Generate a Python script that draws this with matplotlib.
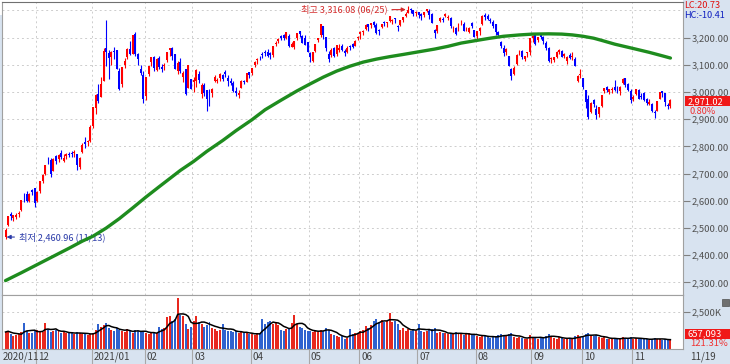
import numpy as np
import pandas as pd
import matplotlib
matplotlib.use('Agg')
import matplotlib.pyplot as plt
import matplotlib.transforms as mtransforms
from matplotlib.patches import Rectangle

plt.rcParams['font.family'] = ['Noto Sans CJK KR', 'DejaVu Sans']
plt.rcParams['font.size'] = 7

# trading days per month, 2020/11/13 .. 2021/11/19
month_labels = ['2020/11', '12', '2021/01', '02', '03', '04', '05', '06', '07', '08', '09', '10', '11']
month_days = [12, 21, 20, 18, 22, 22, 19, 22, 22, 21, 19, 19, 15]

opens = [
    2466, 2510, 2550, 2536, 2540, 2553, 2566, 2618, 2626, 2600, 2640, 2648,
    2598, 2636, 2674, 2698, 2748, 2750, 2710, 2765, 2755, 2775, 2746, 2765, 2774, 2773, 2777, 2772, 2726, 2778, 2815, 2815, 2821,
    2874, 2943, 2993, 2981, 3041, 3161, 3145, 3128, 3150, 3153, 3077, 3028, 3098, 3130, 3159, 3141, 3213, 3140, 3083, 3063,
    2984, 3068, 3110, 3128, 3081, 3124, 3092, 3094, 3117, 3156, 3163, 3139, 3078, 3112, 3057, 3084, 3015, 3047,
    3036, 3042, 3065, 2993, 3027, 3006, 2971, 2995, 3040, 3042, 3053, 3064, 3073, 3051, 3039, 3035, 3003, 2988, 3014, 3042, 3038, 3074,
    3071, 3100, 3117, 3128, 3138, 3144, 3148, 3143, 3136, 3178, 3188, 3205, 3208, 3200, 3207, 3167, 3166, 3197, 3224, 3206, 3200, 3183,
    3144, 3115, 3151, 3190, 3208, 3244, 3203, 3140, 3137, 3162, 3140, 3155, 3169, 3150, 3148, 3171, 3175, 3171, 3197,
    3215, 3222, 3231, 3249, 3248, 3257, 3246, 3229, 3238, 3257, 3254, 3260, 3262, 3271, 3242, 3248, 3264, 3281, 3289, 3306, 3300, 3290,
    3294, 3287, 3283, 3299, 3297, 3287, 3228, 3225, 3262, 3267, 3278, 3271, 3271, 3231, 3237, 3225, 3252, 3249, 3231, 3219, 3253, 3228,
    3205, 3225, 3251, 3285, 3281, 3264, 3257, 3250, 3222, 3185, 3162, 3149, 3131, 3083, 3065, 3103, 3146, 3151, 3120, 3143, 3146,
    3198, 3210, 3190, 3210, 3204, 3182, 3162, 3122, 3116, 3130, 3147, 3152, 3132, 3113, 3138, 3128, 3123, 3041, 3064,
    3052, 3007, 2974, 2927, 2970, 2938, 2919, 2950, 3004, 3020, 3001, 3009, 3020, 3008, 3004, 3032, 3050, 3029, 3005,
    2974, 2993, 3009, 2986, 2997, 2975, 2955, 2956, 2928, 2931, 2976, 3005, 2996, 2952, 2948,
]
highs = [
    2500, 2545, 2560, 2547, 2555, 2563, 2602, 2630, 2635, 2629, 2642, 2648,
    2635, 2673, 2697, 2731, 2762, 2759, 2756, 2768, 2771, 2786, 2771, 2777, 2781, 2783, 2788, 2774, 2762, 2812, 2834, 2823, 2878,
    2946, 2991, 3028, 3056, 3161, 3266, 3156, 3150, 3165, 3153, 3089, 3093, 3124, 3161, 3188, 3208, 3220, 3142, 3099, 3079,
    3057, 3097, 3130, 3131, 3125, 3131, 3104, 3105, 3147, 3163, 3164, 3139, 3114, 3125, 3079, 3085, 3099, 3048,
    3057, 3084, 3077, 3035, 3032, 3006, 3010, 3014, 3061, 3053, 3071, 3067, 3082, 3061, 3051, 3039, 3018, 3007, 3044, 3046, 3070, 3075,
    3089, 3114, 3126, 3134, 3149, 3154, 3159, 3148, 3169, 3186, 3199, 3208, 3213, 3221, 3214, 3183, 3187, 3218, 3226, 3211, 3210, 3185,
    3147, 3147, 3178, 3200, 3249, 3244, 3203, 3150, 3161, 3164, 3174, 3175, 3175, 3157, 3171, 3172, 3179, 3191, 3207,
    3226, 3227, 3249, 3249, 3255, 3261, 3252, 3231, 3250, 3260, 3259, 3279, 3269, 3272, 3245, 3264, 3276, 3294, 3316.08, 3310, 3303, 3299,
    3296, 3292, 3294, 3306, 3304, 3290, 3230, 3248, 3275, 3276, 3289, 3283, 3275, 3243, 3238, 3252, 3264, 3256, 3240, 3240, 3256, 3228,
    3225, 3238, 3282, 3289, 3288, 3273, 3266, 3250, 3225, 3189, 3173, 3162, 3131, 3090, 3097, 3139, 3155, 3153, 3134, 3148, 3200,
    3208, 3210, 3203, 3213, 3206, 3186, 3166, 3129, 3130, 3150, 3157, 3154, 3145, 3134, 3144, 3148, 3128, 3062, 3083,
    3053, 3009, 2988, 2962, 2975, 2951, 2945, 2989, 3015, 3022, 3013, 3019, 3043, 3023, 3021, 3051, 3051, 3033, 3010,
    2989, 3013, 3010, 2997, 3000, 2977, 2974, 2961, 2933, 2968, 3000, 3005, 2997, 2958, 2973,
]
lows = [
    2460.96, 2508, 2530, 2527, 2532, 2541, 2563, 2596, 2595, 2596, 2622, 2579,
    2597, 2630, 2664, 2695, 2737, 2689, 2709, 2736, 2744, 2755, 2742, 2754, 2760, 2763, 2762, 2713, 2716, 2775, 2795, 2800, 2818,
    2869, 2921, 2961, 2980, 3040, 3096, 3047, 3100, 3121, 3085, 3007, 3020, 3089, 3120, 3136, 3141, 3131, 3098, 3061, 2961,
    2970, 3060, 3096, 3076, 3078, 3085, 3072, 3081, 3110, 3132, 3117, 3085, 3067, 3070, 3036, 2988, 3015, 3010,
    3000, 3017, 3035, 2979, 2984, 2930, 2950, 2981, 3037, 3034, 3040, 3040, 3057, 3023, 3025, 3002, 2987, 2978, 3014, 3029, 3037, 3051,
    3063, 3092, 3104, 3116, 3125, 3131, 3127, 3123, 3130, 3168, 3182, 3190, 3193, 3196, 3166, 3164, 3159, 3190, 3201, 3181, 3174, 3147,
    3112, 3112, 3146, 3185, 3204, 3194, 3151, 3110, 3130, 3130, 3133, 3149, 3151, 3132, 3144, 3153, 3161, 3168, 3190,
    3196, 3210, 3227, 3226, 3235, 3238, 3213, 3211, 3235, 3243, 3239, 3256, 3250, 3253, 3223, 3241, 3256, 3277, 3289, 3292, 3278, 3280,
    3273, 3265, 3277, 3293, 3270, 3252, 3200, 3216, 3257, 3257, 3275, 3266, 3237, 3221, 3209, 3224, 3246, 3223, 3225, 3218, 3237, 3202,
    3194, 3208, 3248, 3264, 3264, 3253, 3234, 3211, 3201, 3163, 3134, 3136, 3095, 3044, 3064, 3101, 3135, 3122, 3113, 3129, 3135,
    3184, 3174, 3183, 3194, 3175, 3153, 3110, 3107, 3109, 3124, 3140, 3129, 3125, 3104, 3120, 3118, 3097, 3036, 3053,
    3011, 2941, 2901, 2924, 2944, 2901, 2908, 2946, 2995, 2999, 2992, 2995, 3003, 2996, 2990, 3029, 3020, 3003, 2961,
    2968, 2989, 2973, 2973, 2966, 2951, 2954, 2927, 2904, 2930, 2975, 2981, 2950, 2937, 2943,
]
closes = [
    2493, 2543, 2545, 2547, 2547, 2553, 2602, 2617, 2601, 2625, 2633, 2591,
    2634, 2672, 2696, 2731, 2745, 2700, 2755, 2746, 2770, 2762, 2756, 2771, 2770, 2772, 2778, 2733, 2759, 2806, 2808, 2820, 2873,
    2944, 2990, 2968, 3031, 3152, 3148, 3125, 3148, 3149, 3085, 3013, 3092, 3114, 3160, 3140, 3208, 3140, 3122, 3069, 2976,
    3056, 3096, 3129, 3087, 3120, 3091, 3084, 3100, 3147, 3163, 3133, 3086, 3107, 3079, 3070, 2994, 3099, 3012,
    3043, 3082, 3043, 3026, 2996, 2976, 2958, 3013, 3054, 3045, 3067, 3047, 3066, 3039, 3035, 3004, 2996, 2995, 3041, 3036, 3070, 3061,
    3087, 3112, 3120, 3127, 3137, 3143, 3131, 3135, 3169, 3182, 3194, 3198, 3198, 3220, 3171, 3177, 3186, 3217, 3215, 3181, 3174, 3147,
    3127, 3147, 3178, 3197, 3249, 3209, 3161, 3122, 3153, 3134, 3173, 3162, 3156, 3144, 3162, 3166, 3165, 3188, 3203,
    3221, 3223, 3247, 3240, 3252, 3247, 3216, 3224, 3249, 3252, 3258, 3278, 3264, 3267, 3240, 3263, 3276, 3286, 3302, 3301, 3286, 3296,
    3282, 3281, 3293, 3305, 3285, 3252, 3217, 3246, 3271, 3264, 3286, 3276, 3244, 3232, 3215, 3250, 3254, 3224, 3232, 3236, 3243, 3202,
    3223, 3237, 3280, 3276, 3270, 3260, 3243, 3220, 3208, 3171, 3143, 3158, 3097, 3060, 3090, 3138, 3147, 3128, 3133, 3144, 3199,
    3207, 3175, 3201, 3203, 3187, 3162, 3114, 3125, 3127, 3148, 3153, 3130, 3140, 3127, 3125, 3133, 3097, 3060, 3068,
    3019, 2962, 2908, 2959, 2956, 2916, 2944, 2988, 3015, 3006, 3013, 3013, 3007, 3006, 3020, 3049, 3025, 3009, 2970,
    2983, 3013, 2975, 2983, 2969, 2960, 2962, 2930, 2924, 2968, 2999, 2997, 2962, 2947, 2971.02,
]
# volume, thousand shares
volumes = [
    1150, 1250, 1000, 900, 950, 1000, 1150, 1750, 1250, 1050, 1100, 1200,
    1300, 1200, 1150, 1750, 1350, 1150, 1250, 1300, 1200, 1100, 1150, 1050, 1050, 1150, 1000, 1150, 1050, 1000, 1100, 950, 1000,
    1050, 1300, 1700, 1500, 1600, 1750, 1400, 1300, 1250, 1450, 1300, 1200, 1150, 1350, 1200, 1050, 1300, 1250, 1150, 1250,
    1050, 1000, 1100, 1150, 1050, 1500, 1350, 1450, 2150, 2200, 1900, 2000, 3450, 2300, 2200, 1700, 1350, 1500,
    1900, 2200, 1800, 1700, 1500, 1600, 1800, 1450, 1350, 1250, 1300, 1700, 1300, 1200, 1250, 1150, 1200, 1100, 1150, 1050, 1150, 1000,
    1000, 950, 1050, 1100, 2000, 1700, 1800, 1900, 1700, 1800, 1600, 1300, 1250, 1350, 1400, 1750, 2300, 1700, 1500, 1400, 1300, 1250,
    1200, 1150, 1250, 1150, 1300, 1250, 1450, 1300, 1000, 950, 900, 800, 850, 700, 750, 1350, 1000, 1050, 1100,
    1200, 1300, 1550, 1450, 1650, 1900, 2000, 1850, 1950, 1800, 1900, 2400, 1850, 1900, 1700, 1300, 1400, 1250, 1350, 1200, 1300, 1250,
    1700, 1250, 1150, 1200, 1300, 1350, 1450, 1100, 1150, 1050, 1100, 1000, 1050, 1000, 1150, 1100, 1000, 950, 1000, 1050, 950, 1000,
    850, 800, 950, 900, 800, 750, 800, 850, 950, 1000, 900, 850, 1000, 1050, 800, 750, 800, 750, 700, 700, 950,
    800, 750, 700, 750, 800, 900, 1000, 850, 750, 700, 800, 750, 700, 650, 750, 700, 850, 950, 800,
    900, 1000, 1050, 900, 850, 950, 800, 750, 800, 700, 650, 700, 750, 700, 650, 800, 750, 700, 800,
    700, 750, 700, 650, 700, 650, 600, 700, 750, 700, 650, 600, 650, 600, 657,
]
# 120-day moving average (candle index, value)
ma_idx = [0, 6, 12, 18, 24, 29, 33, 38, 43, 48, 53, 58, 62, 66, 71, 76, 82, 87, 93, 98,
          104, 110, 115, 120, 125, 130, 135, 140, 145, 150, 156, 162, 167, 172, 178, 183, 188, 194,
          199, 205, 210, 214, 218, 222, 225, 230, 237, 243, 248, 251]
ma_val = [2307, 2336, 2366, 2396, 2426, 2452, 2470, 2500, 2535, 2574, 2614, 2652, 2682, 2712, 2745, 2782, 2822, 2858, 2898, 2935,
          2970, 3004, 3030, 3055, 3077, 3095, 3110, 3121, 3130, 3138, 3148, 3158, 3168, 3180, 3190, 3198, 3205, 3210,
          3213, 3214, 3213, 3210, 3205, 3198, 3190, 3176, 3160, 3146, 3133, 3125]

price_ticks = [2300, 2400, 2500, 2600, 2700, 2800, 2900, 3000, 3100, 3200]

n = len(closes)
assert len(opens) == len(highs) == len(lows) == n == len(volumes) == sum(month_days)

W, H = 730, 364
def fx(px):
    return px / W
def fy(py):
    return 1 - py / H

o = np.array(opens, float)
h = np.array(highs, float)
l = np.array(lows, float)
c = np.array(closes, float)
v = np.array(volumes, float)
x = np.arange(n)
up = c >= o
cand_cols = np.where(up, '#FF0000', '#0000FF')
vol_cols = np.where(up, '#E8281E', '#2F62CF')
starts = np.concatenate([[0], np.cumsum(month_days)[:-1]])

panel = '#D8E3F0'
grid_kw = dict(color='#CDCDCD', lw=0.7, linestyle=(0, (2, 3)), zorder=0)

fig = plt.figure(figsize=(W / 100, H / 100), dpi=100)
fig.patch.set_facecolor('white')
fig.add_artist(Rectangle((fx(683), 0), 1 - fx(683), 1, transform=fig.transFigure,
                         facecolor=panel, edgecolor='none', zorder=-5))
fig.add_artist(Rectangle((0, 0), 1, 1 - fy(349), transform=fig.transFigure,
                         facecolor=panel, edgecolor='none', zorder=-5))

xmin, xmax = -1.33, 255.75

# price panel
ax = fig.add_axes([fx(2), fy(295), fx(683) - fx(2), fy(2) - fy(295)])
ax.set_xlim(xmin, xmax)
ax.set_ylim(2254, 3331)
for g in range(2300, 3400, 100):
    ax.axhline(g, **grid_kw)
for s in starts[1:]:
    ax.axvline(s - 0.5, **grid_kw)

ax.vlines(x, l, h, colors=cand_cols, lw=0.8, zorder=2)
body = np.maximum(np.abs(c - o), 2.5)
ax.bar(x, body, bottom=np.minimum(o, c), width=0.75, color=cand_cols, zorder=3, linewidth=0)
ax.plot(ma_idx, ma_val, color='#1E8C1E', lw=2.4, zorder=4, solid_capstyle='round', solid_joinstyle='round')

ax.yaxis.tick_right()
ax.set_yticks(price_ticks)
ax.set_yticklabels([f'{t:,.2f}' for t in price_ticks])
ax.tick_params(axis='y', length=5, color='#808080', labelcolor='#505050', labelsize=6.8, pad=1)
ax.set_xticks([])
for sp in ax.spines.values():
    sp.set_color('#A0A0A0')
ax.spines['top'].set_color('#707070')

# high / low marks
hi = int(np.argmax(h))
ax.annotate('최고 3,316.08 (06/25)', xy=(hi - 0.9, 3303), xytext=(-18, 0), textcoords='offset pixels',
            ha='right', va='center', color='#D42A2A', fontsize=6.6,
            arrowprops=dict(arrowstyle='-|>', color='#D42A2A', lw=0.8, mutation_scale=6, shrinkA=1, shrinkB=0))
lo = int(np.argmin(l))
ax.annotate('최저 2,460.96 (11/13)', xy=(lo + 0.4, 2467), xytext=(12, 0), textcoords='offset pixels',
            ha='left', va='center', color='#2A3AA8', fontsize=6.6,
            arrowprops=dict(arrowstyle='-|>', color='#2A3AA8', lw=0.8, mutation_scale=6, shrinkA=1, shrinkB=0))

# volume panel
vax = fig.add_axes([fx(2), fy(349), fx(683) - fx(2), fy(295) - fy(349)])
vax.set_xlim(xmin, xmax)
vax.set_ylim(0, 3650)
vax.axhline(2500, **grid_kw)
for s in starts[1:]:
    vax.axvline(s - 0.5, **grid_kw)
vax.bar(x, v, width=0.75, color=vol_cols, linewidth=0, zorder=2)
vma = pd.Series(v).rolling(5, min_periods=1).mean()
vax.plot(x, vma, color='black', lw=1.1, zorder=3)
vax.yaxis.tick_right()
vax.set_yticks([2500])
vax.set_yticklabels(['2,500K'])
vax.tick_params(axis='y', length=5, color='#808080', labelcolor='#505050', labelsize=6.8, pad=1)
vax.set_xticks([])
for sp in vax.spines.values():
    sp.set_color('#A0A0A0')

# date band
tr = mtransforms.blended_transform_factory(vax.transData, fig.transFigure)
for k, (s, lab) in enumerate(zip(starts, month_labels)):
    if k == 0:
        fig.text(fx(3), fy(356.5), lab, ha='left', va='center', color='#404040', fontsize=7)
        continue
    fig.add_artist(plt.Line2D([s - 0.5, s - 0.5], [0, fy(349)], transform=tr, color='#A8A8A8', lw=0.8))
    fig.text(s + 0.3, fy(356.5), lab, transform=tr, ha='left', va='center', color='#404040', fontsize=7)
fig.text(fx(690), fy(356.5), '11/19', ha='left', va='center', color='#404040', fontsize=7)

# right panel labels
fig.text(fx(684), fy(5), 'LC:20.73', ha='left', va='center', color='#E01010', fontsize=6.6)
fig.text(fx(684), fy(15), 'HC:-10.41', ha='left', va='center', color='#1020C0', fontsize=6.6)
fig.add_artist(Rectangle((fx(685), fy(106)), 1 - fx(685), fy(96.5) - fy(106), transform=fig.transFigure,
                         facecolor='#F01818', edgecolor='none'))
fig.text(fx(688), fy(101.5), f'{closes[-1]:,.2f}', ha='left', va='center', color='white', fontsize=6.6)
fig.text(fx(690), fy(111.5), '0.80%', ha='left', va='center', color='#F03030', fontsize=6.6)
fig.add_artist(Rectangle((fx(685), fy(339)), 1 - fx(685), fy(329) - fy(339), transform=fig.transFigure,
                         facecolor='#F01818', edgecolor='none'))
fig.text(fx(688), fy(334), f'{int(volumes[-1] * 1000 + 93):,}', ha='left', va='center', color='white', fontsize=6.8)
fig.text(fx(690), fy(344), '121.31%', ha='left', va='center', color='#F03030', fontsize=6.8)
fig.add_artist(Rectangle((fx(722), fy(306)), fx(7), fy(299) - fy(306), transform=fig.transFigure,
                         facecolor='#707070', edgecolor='#505050', lw=0.5))

fig.savefig('out.png', dpi=100)
plt.close(fig)
